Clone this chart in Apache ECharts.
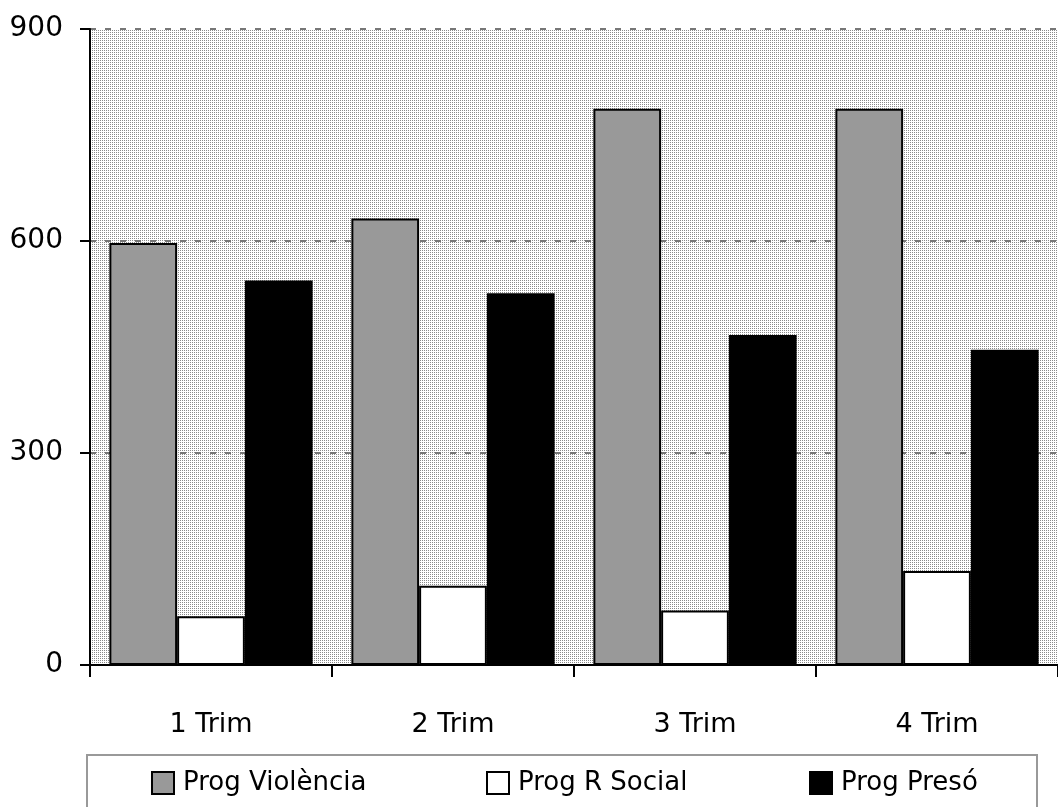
<!DOCTYPE html>
<html>
<head>
<meta charset="utf-8">
<script src="https://cdn.jsdelivr.net/npm/echarts@6/dist/echarts.min.js"></script>
<style>
html,body{margin:0;padding:0;background:#fff;}
#chart{width:1058px;height:807px;}
</style>
</head>
<body>
<div id="chart"></div>
<script>
var categories = ['1 Trim', '2 Trim', '3 Trim', '4 Trim'];
var progViolencia = [597, 632, 787, 787];
var progRSocial = [69, 112, 77, 133];
var progPreso = [544, 526, 467, 446];
var yTicks = [0, 300, 600, 900];

var FONT = "'DejaVu Sans', sans-serif";

var pc = document.createElement('canvas');
pc.width = 2; pc.height = 2;
var pctx = pc.getContext('2d');
pctx.fillStyle = '#ffffff';
pctx.fillRect(0, 0, 2, 2);
pctx.fillStyle = '#8a8a8a';
pctx.fillRect(0, 0, 1, 1);

var chart = echarts.init(document.getElementById('chart'), null, {renderer: 'canvas', devicePixelRatio: 1});

function legendAt(name, left) {
  return {
    data: [name],
    left: left,
    top: 765,
    orient: 'horizontal',
    itemWidth: 22,
    itemHeight: 22,
    icon: 'rect',
    selectedMode: false,
    textStyle: {fontFamily: FONT, fontSize: 26, color: '#000', padding: [0, 0, 0, 4]}
  };
}

var option = {
  animation: false,
  backgroundColor: '#ffffff',
  grid: {
    left: 90, top: 29, right: -6, height: 636,
    show: true,
    backgroundColor: {image: pc, repeat: 'repeat'},
    borderWidth: 0
  },
  graphic: [{
    type: 'rect',
    z: 0,
    shape: {x: 87, y: 755, width: 950, height: 70},
    style: {fill: '#ffffff', stroke: '#999999', lineWidth: 2}
  }],
  legend: [
    legendAt('Prog Violència', 146),
    legendAt('Prog R Social', 481),
    legendAt('Prog Presó', 804)
  ],
  xAxis: {
    type: 'category',
    data: categories,
    boundaryGap: true,
    axisLine: {show: true, lineStyle: {color: '#000', width: 2}},
    axisTick: {show: true, length: 12, lineStyle: {color: '#000', width: 2}},
    axisLabel: {fontFamily: FONT, fontSize: 27, color: '#000', margin: 46},
    splitLine: {show: false}
  },
  yAxis: {
    type: 'value',
    min: 0, max: 900, interval: 300,
    axisLine: {show: true, lineStyle: {color: '#000', width: 2}},
    axisTick: {show: true, length: 10, lineStyle: {color: '#000', width: 2}},
    axisLabel: {fontFamily: FONT, fontSize: 28, color: '#000', margin: 27,
      formatter: function (v) { return yTicks.indexOf(v) >= 0 ? String(v) : ''; }},
    splitLine: {show: true, lineStyle: {color: '#777777', width: 2, type: [6, 9]}}
  },
  series: [
    {
      name: 'Prog Violència', type: 'bar', data: progViolencia,
      barGap: '0%', barCategoryGap: '16%',
      itemStyle: {color: '#999999', borderColor: '#000', borderWidth: 2}
    },
    {
      name: 'Prog R Social', type: 'bar', data: progRSocial,
      barGap: '0%', barCategoryGap: '16%',
      itemStyle: {color: '#ffffff', borderColor: '#000', borderWidth: 2}
    },
    {
      name: 'Prog Presó', type: 'bar', data: progPreso,
      barGap: '0%', barCategoryGap: '16%',
      itemStyle: {color: '#000000', borderColor: '#000', borderWidth: 2}
    }
  ]
};
chart.setOption(option);
</script>
</body>
</html>
